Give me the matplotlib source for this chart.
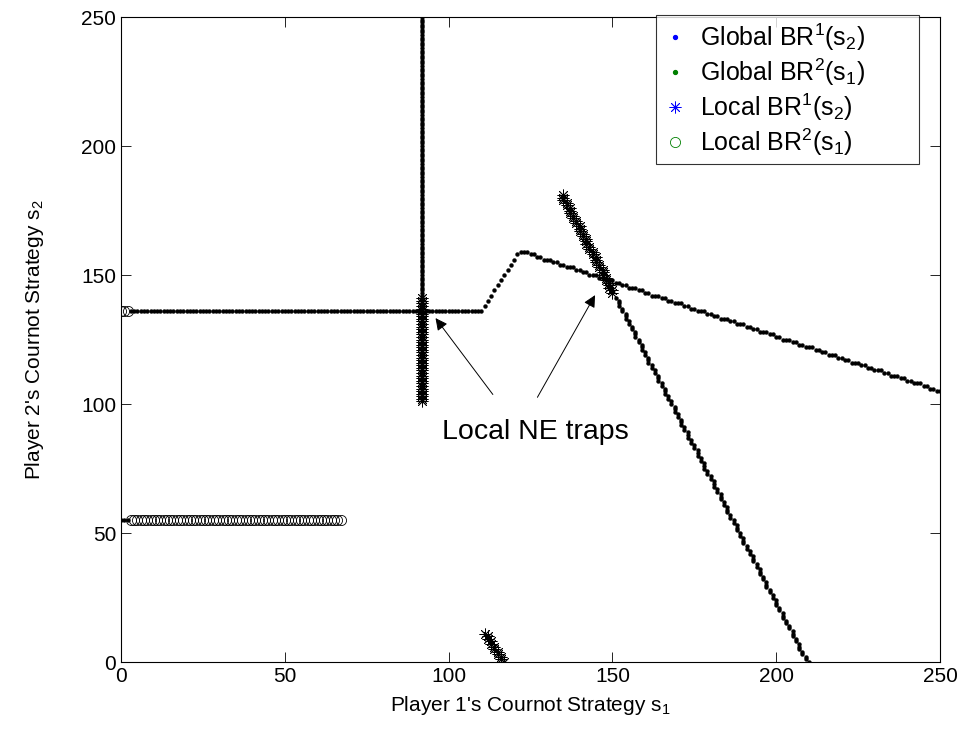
import numpy as np
import matplotlib
matplotlib.use("Agg")
import matplotlib.pyplot as plt
from matplotlib.lines import Line2D

plt.rcParams["font.family"] = ["Liberation Sans", "DejaVu Sans"]
plt.rcParams["mathtext.fontset"] = "custom"
plt.rcParams["mathtext.rm"] = "Liberation Sans"
plt.rcParams["mathtext.it"] = "Liberation Sans"

# --- global best response of player 2, s2 as a function of s1 ---
g2_low_s1 = [0, 1, 2]
g2_low_s2 = [55, 55, 55]
g2_flat_s1 = (3, 110)          # inclusive range of s1 on the flat part
g2_flat_s2 = 136
g2_rise_s1 = [111, 112, 113, 114, 115, 116, 117, 118, 119, 120, 121, 122]
g2_rise_s2 = [138, 140, 142, 144, 146, 148, 150, 152, 154, 156, 158, 159]
g2_fall_start = 123            # s1 of first value below
g2_fall_s2 = [
    159, 159, 158, 158, 157, 157, 156, 156, 156, 155,
    155, 154, 154, 153, 153, 153, 152, 152, 151, 151,
    150, 150, 150, 149, 149, 148, 148, 148, 147, 147,
    146, 146, 145, 145, 145, 144, 144, 143, 143, 142,
    142, 142, 141, 141, 140, 140, 139, 139, 139, 138,
    138, 137, 137, 136, 136, 136, 135, 135, 134, 134,
    133, 133, 133, 132, 132, 131, 131, 131, 130, 130,
    129, 129, 128, 128, 128, 127, 127, 126, 126, 125,
    125, 125, 124, 124, 123, 123, 122, 122, 122, 121,
    121, 120, 120, 119, 119, 119, 118, 118, 117, 117,
    116, 116, 116, 115, 115, 114, 114, 113, 113, 113,
    112, 112, 111, 111, 111, 110, 110, 109, 109, 108,
    108, 108, 107, 107, 106, 106, 105, 105,
]

# --- global best response of player 1, s1 as a function of s2 ---
g1_steep_s1 = [
    210, 209, 209, 208, 208, 207, 207, 207, 206, 206,
    205, 205, 205, 204, 204, 203, 203, 202, 202, 202,
    201, 201, 200, 200, 200, 199, 199, 198, 198, 197,
    197, 197, 196, 196, 195, 195, 195, 194, 194, 193,
    193, 193, 192, 192, 191, 191, 190, 190, 190, 189,
    189, 188, 188, 188, 187, 187, 186, 186, 185, 185,
    185, 184, 184, 183, 183, 183, 182, 182, 181, 181,
    181, 180, 180, 179, 179, 178, 178, 178, 177, 177,
    176, 176, 176, 175, 175, 174, 174, 173, 173, 173,
    172, 172, 171, 171, 171, 170, 170, 169, 169, 169,
    168, 168, 167, 167, 166, 166, 166, 165, 165, 164,
    164, 164, 163, 163, 162, 162, 161, 161, 161, 160,
    160, 159, 159, 159, 158, 158, 157, 157, 157, 156,
    156, 155, 155, 154, 154, 154, 153, 153, 152, 152,
    152, 151,
]                              # s2 = 0, 1, 2, ...
g1_vert_s1 = 92
g1_vert_s2 = (142, 250)

# --- local best responses ---
l1_vert_s1 = 92
l1_vert_s2 = (101, 141)
l1_upper_s2 = list(range(143, 182))
l1_upper_s1 = [
    150, 150, 149, 149, 149, 148, 148, 147, 147, 147,
    146, 146, 145, 145, 145, 144, 144, 143, 143, 142,
    142, 142, 141, 141, 140, 140, 140, 139, 139, 138,
    138, 137, 137, 137, 136, 136, 135, 135, 135,
]
l1_lower_s2 = [0, 1, 2, 3, 4, 5, 6, 7, 8, 9, 10, 11]
l1_lower_s1 = [117, 116, 116, 115, 115, 114, 114, 113, 113, 112, 112, 111]

l2_top_s1 = [0, 1, 2]
l2_top_s2 = [136, 136, 136]
l2_low_s1 = (3, 67)
l2_low_s2 = 55

fig = plt.figure(figsize=(9.66, 7.36), dpi=100)
ax = fig.add_axes([0.1253, 0.1005, 0.8478, 0.8764])

dot = dict(ls="none", marker="o", ms=2.8, mfc="k", mec="k", mew=0.3)
star = dict(ls="none", marker=(8, 2, 0), ms=8.5, mec="k", mew=0.6)
ring = dict(ls="none", marker="o", ms=7.3, mfc="none", mec="k", mew=0.6)

# global BR2
g2_s1 = np.concatenate([g2_low_s1,
                        np.arange(g2_flat_s1[0], g2_flat_s1[1] + 1),
                        g2_rise_s1,
                        np.arange(g2_fall_start, g2_fall_start + len(g2_fall_s2))])
g2_s2 = np.concatenate([g2_low_s2,
                        np.full(g2_flat_s1[1] - g2_flat_s1[0] + 1, g2_flat_s2),
                        g2_rise_s2,
                        g2_fall_s2])
ax.plot(g2_s1, g2_s2, **dot)

# global BR1
vs2 = np.arange(g1_vert_s2[0], g1_vert_s2[1] + 1)
ax.plot(g1_steep_s1, np.arange(len(g1_steep_s1)), **dot)
ax.plot(np.full(len(vs2), g1_vert_s1), vs2, **dot)

# local BR1
ls2 = np.arange(l1_vert_s2[0], l1_vert_s2[1] + 1)
ax.plot(np.full(len(ls2), l1_vert_s1), ls2, **star)
ax.plot(l1_upper_s1, l1_upper_s2, **star)
ax.plot(l1_lower_s1, l1_lower_s2, **star)

# local BR2
ls1 = np.arange(l2_low_s1[0], l2_low_s1[1] + 1)
ax.plot(l2_top_s1, l2_top_s2, **ring)
ax.plot(ls1, np.full(len(ls1), l2_low_s2), **ring)

ax.set_xlim(0, 250)
ax.set_ylim(0, 250)
ax.set_xticks([0, 50, 100, 150, 200, 250])
ax.set_yticks([0, 50, 100, 150, 200, 250])
ax.tick_params(direction="in", top=True, right=True, length=7, width=0.6,
               labelsize=15)
for sp in ax.spines.values():
    sp.set_linewidth(0.8)

ax.set_xlabel(r"Player 1's Cournot Strategy $\mathregular{s_1}$", fontsize=15,
              labelpad=6)
ax.set_ylabel(r"Player 2's Cournot Strategy $\mathregular{s_2}$", fontsize=15,
              labelpad=25)

# annotation
ax.text(98, 89, "Local NE traps", fontsize=20.5, va="center", ha="left")
arrow = dict(arrowstyle="-|>", lw=0.7, color="k", mutation_scale=18,
             shrinkA=0, shrinkB=0)
ax.annotate("", xy=(96, 133.3), xytext=(113.5, 103.7), arrowprops=arrow)
ax.annotate("", xy=(144.7, 142.2), xytext=(127.1, 102.6), arrowprops=arrow)

handles = [
    Line2D([], [], ls="none", marker="o", ms=2.8, mfc="b", mec="b"),
    Line2D([], [], ls="none", marker="o", ms=2.8, mfc="g", mec="g"),
    Line2D([], [], ls="none", marker=(8, 2, 0), ms=8.5, mec="b", mew=0.6),
    Line2D([], [], ls="none", marker="o", ms=7.3, mfc="none", mec="g", mew=0.6),
]
labels = [
    r"Global $\mathregular{BR^1(s_2)}$",
    r"Global $\mathregular{BR^2(s_1)}$",
    r"Local $\mathregular{BR^1(s_2)}$",
    r"Local $\mathregular{BR^2(s_1)}$",
]
leg = ax.legend(handles, labels, loc="upper left", mode="expand",
                bbox_to_anchor=(0.6532, 0.5, 0.3211, 0.503),
                borderaxespad=0, fontsize=18, frameon=True, fancybox=False,
                edgecolor="k", handlelength=1.0, handletextpad=0.5,
                labelspacing=0.15, borderpad=0.25)
leg.get_frame().set_linewidth(0.8)

fig.savefig("out.png", dpi=100)
